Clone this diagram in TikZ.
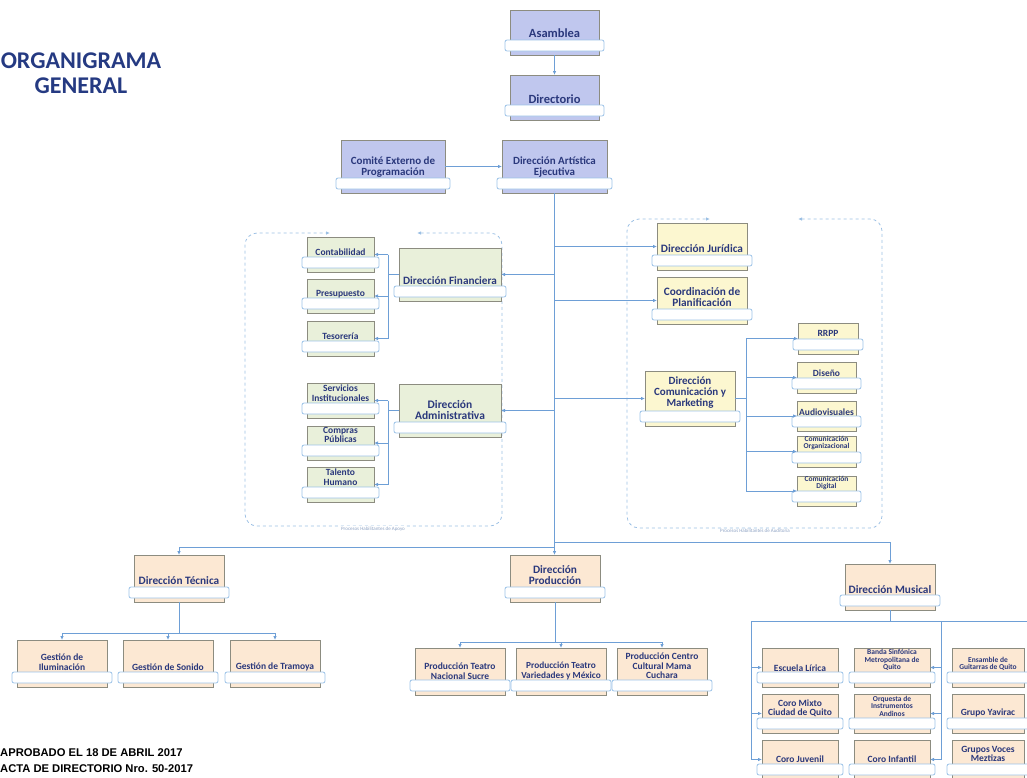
\documentclass[tikz,border=0pt]{standalone}
\usepackage{fontspec}
\setmainfont{Carlito}
\newfontfamily\arialfont{Liberation Sans}
\usetikzlibrary{arrows.meta,calc}
\definecolor{navy}{HTML}{2A387C}
\definecolor{titnavy}{HTML}{253A82}
\definecolor{pur}{HTML}{C0C7EE}
\definecolor{gre}{HTML}{E9F0DA}
\definecolor{yel}{HTML}{FCF7D0}
\definecolor{pea}{HTML}{FCE8D3}
\definecolor{boxborder}{HTML}{8C8C80}
\definecolor{lineblue}{HTML}{6E9FD6}
\definecolor{barblue}{HTML}{9CC3E8}
\definecolor{dashblue}{HTML}{9CC0E4}
\definecolor{labgray}{HTML}{8FA3C4}
\tikzset{
 conn/.style={draw=lineblue, line width=0.9pt, -{Latex[length=4pt,width=3.5pt]}},
 cline/.style={draw=lineblue, line width=0.9pt},
 boxbase/.style={draw=boxborder, line width=0.8pt, inner sep=0pt, outer sep=0pt, anchor=north west},
 barst/.style={draw=barblue, fill=white, line width=0.8pt, rounded corners=2pt},
 txt/.style={text=navy, align=center, inner sep=0pt},
 dashgrp/.style={draw=dashblue, line width=0.8pt, dashed, rounded corners=12pt, {Latex[length=4pt,width=3.5pt]}-{Latex[length=4pt,width=3.5pt]}},
 grplab/.style={text=labgray, font=\fontsize{5}{5}\selectfont, fill=white, inner sep=0.5pt},
 titst/.style={text=titnavy, font=\fontsize{24}{24}\selectfont\bfseries, inner sep=0pt},
 footst/.style={text=black, font=\arialfont\fontsize{11.2}{11.2}\selectfont\bfseries, inner sep=0pt, anchor=base west}
}
\newcommand\obox[9]{%
 \node[boxbase, fill=#6, minimum width={(#4-#2)*1pt}, minimum height={(#5-#3)*1pt}] (#1) at (#2,#3) {};
 \draw[barst] ([shift={(-5pt,4pt)}]#1.south west) rectangle ([shift={(5pt,15pt)}]#1.south east);
 \node[txt, font=\bfseries\fontsize{#9}{#9}\selectfont] (#1t) at ({(#2+#4)/2},#8) {#7};
}
\begin{document}
\begin{tikzpicture}[x=1pt,y=-1pt]
\useasboundingbox (0,0) rectangle (1027,777);
\clip (0,0) rectangle (1027,777);
% title and footer
\node[titst] (tit1) at (81,61) {ORGANIGRAMA};
\node[titst] (tit2) at (81,86) {GENERAL};
\node[footst] (ap1) at (0,756) {APROBADO EL 18 DE ABRIL 2017};
\node[footst] (ap2) at (0,772) {ACTA DE DIRECTORIO Nro. 50-2017};
% group frames
\draw[dashgrp] (417,233) -- (502,233) -- (502,526) -- (245,526) -- (245,233) -- (330,233);
\node[grplab] (lab1) at (373,529) {Procesos Habilitantes de Apoyo};
\draw[dashgrp] (798,219) -- (882,219) -- (882,528) -- (627,528) -- (627,219) -- (710,219);
\node[grplab] (lab2) at (755,531) {Procesos Habilitantes de Auditoría};
% top
\obox{asam}{510}{10}{599}{55}{pur}{Asamblea}{33}{12.5}
\obox{dire}{510}{75}{599}{120}{pur}{Directorio}{99}{12.5}
\obox{comite}{341}{140}{445}{193}{pur}{Comité Externo de\\Programación}{167.5}{11}
\obox{dae}{502}{140}{607}{193}{pur}{Dirección Artística\\Ejecutiva}{167.5}{11}
% left group
\obox{df}{399}{248}{501}{301}{gre}{Dirección Financiera}{281}{11.2}
\obox{dadm}{399}{384}{501}{437}{gre}{Dirección\\Administrativa}{410}{11.5}
\obox{cont}{307}{237}{374}{272}{gre}{Contabilidad}{252}{9.5}
\obox{pres}{307}{279}{374}{313}{gre}{Presupuesto}{294}{9.5}
\obox{teso}{307}{321}{374}{356}{gre}{Tesorería}{336}{9.5}
\obox{serv}{307}{383}{374}{418}{gre}{Servicios\\Institucionales}{393}{9.5}
\obox{comp}{307}{426}{374}{460}{gre}{Compras\\Públicas}{435}{9.5}
\obox{tal}{307}{467}{374}{502}{gre}{Talento\\Humano}{477}{9.5}
% right group
\obox{djur}{657}{223}{747}{270}{yel}{Dirección Jurídica}{249}{11.3}
\obox{cplan}{657}{277}{747}{324}{yel}{Coordinación de\\Planificación}{297}{11.3}
\obox{dcm}{645}{371}{735}{426}{yel}{Dirección\\Comunicación y\\Marketing}{393}{11}
\obox{rrpp}{798}{323}{858}{354}{yel}{RRPP}{333}{9.5}
\obox{dis}{797}{362}{856}{393}{yel}{Diseño}{373}{9.5}
\obox{audio}{797}{401}{856}{431}{yel}{Audiovisuales}{412}{9.5}
\obox{corg}{797}{436}{856}{467}{yel}{Comunicación\\Organizacional}{443}{7.5}
\obox{cdig}{797}{476}{856}{506}{yel}{Comunicación\\Digital}{483}{7.5}
% bottom
\obox{dtec}{134}{555}{224}{602}{pea}{Dirección Técnica}{581}{11.3}
\obox{dprod}{510}{555}{600}{602}{pea}{Dirección\\Producción}{575}{11.3}
\obox{dmus}{845}{564}{935}{610}{pea}{Dirección Musical}{590}{11.3}
\obox{ilum}{17}{640}{107}{687}{pea}{Gestión de\\Iluminación}{662}{9.5}
\obox{son}{123}{640}{213}{687}{pea}{Gestión de Sonido}{667}{9.5}
\obox{tram}{230}{640}{320}{687}{pea}{Gestión de Tramoya}{667}{9.5}
\obox{ptns}{415}{648}{505}{695}{pea}{Producción Teatro\\Nacional Sucre}{671}{9.5}
\obox{ptvm}{516}{648}{606}{695}{pea}{Producción Teatro\\Variedades y México}{671}{9.3}
\obox{pccm}{617}{648}{707}{695}{pea}{Producción Centro\\Cultural Mama\\Cuchara}{666}{9.5}
\obox{esc}{762}{648}{838}{687}{pea}{Escuela Lírica}{668}{9.5}
\obox{cmix}{762}{694}{838}{733}{pea}{Coro Mixto\\Ciudad de Quito}{708}{9.5}
\obox{cjuv}{762}{740}{838}{779}{pea}{Coro Juvenil}{759}{9.5}
\obox{banda}{854}{648}{930}{687}{pea}{Banda Sinfónica\\Metropolitana de\\Quito}{660}{7.5}
\obox{orq}{854}{694}{930}{733}{pea}{Orquesta de\\Instrumentos\\Andinos}{706}{7.5}
\obox{cinf}{854}{740}{930}{779}{pea}{Coro Infantil}{759}{9.5}
\obox{ens}{952}{648}{1024}{687}{pea}{Ensamble de\\Guitarras de Quito}{664}{7.5}
\obox{yav}{952}{694}{1024}{733}{pea}{Grupo Yavirac}{713}{9.5}
\obox{gvm}{952}{740}{1024}{779}{pea}{Grupos Voces\\Meztizas}{754}{9.5}
% connectors top
\draw[conn] (asam) -- (dire);
\draw[conn] (comite) -- (dae);
\coordinate (tr) at (dae.south);
\draw[conn] (tr) -- (tr |- dprod.north);
\draw[conn] (tr |- df.east) -- (df.east);
\draw[conn] (tr |- dadm.east) -- (dadm.east);
\draw[conn] (tr |- djur.west) -- (djur.west);
\draw[conn] (tr |- cplan.west) -- (cplan.west);
\draw[conn] (tr |- dcm.west) -- (dcm.west);
% financial
\coordinate (dfj) at ($(df.west)+(-11pt,0pt)$);
\draw[cline] (df.west) -- (dfj);
\draw[cline] (dfj |- cont.east) -- (dfj |- teso.east);
\foreach \c in {cont,pres,teso} \draw[conn] (dfj |- \c.east) -- (\c.east);
% administrative
\coordinate (daj) at ($(dadm.west)+(-11pt,0pt)$);
\draw[cline] (dadm.west) -- (daj);
\draw[cline] (daj |- serv.east) -- (daj |- tal.east);
\foreach \c in {serv,comp,tal} \draw[conn] (daj |- \c.east) -- (\c.east);
% communication
\coordinate (dcj) at ($(dcm.east)+(11pt,0pt)$);
\draw[cline] (dcm.east) -- (dcj);
\draw[cline] (dcj |- rrpp.west) -- (dcj |- cdig.west);
\foreach \c in {rrpp,dis,audio,corg,cdig} \draw[conn] (dcj |- \c.west) -- (\c.west);
% bottom level
\coordinate (hl) at (0,547);
\coordinate (hr) at (0,542);
\draw[conn] (tr |- hl) -| (dtec.north);
\draw[conn] (tr |- hr) -| (dmus.north);
% tecnica
\coordinate (dtj) at ($(dtec.south)+(0pt,-31pt)$);
\draw[cline] (dtec.south) -- (dtj);
\draw[cline] (dtj -| ilum.north) -- (dtj -| tram.north);
\foreach \c in {ilum,son,tram} \draw[conn] (dtj -| \c.north) -- (\c.north);
% produccion
\coordinate (dpj) at ($(dprod.south)+(0pt,-40pt)$);
\draw[cline] (dprod.south) -- (dpj);
\draw[cline] (dpj -| ptns.north) -- (dpj -| pccm.north);
\foreach \c in {ptns,ptvm,pccm} \draw[conn] (dpj -| \c.north) -- (\c.north);
% musical
\coordinate (dmj) at ($(dmus.south)+(0pt,-11pt)$);
\draw[cline] (dmus.south) -- (dmj);
\coordinate (mlj) at ($(dmj -| esc.west)+(-11pt,0pt)$);
\coordinate (mmj) at ($(dmj -| banda.east)+(11pt,0pt)$);
\coordinate (mrj) at ($(dmj -| ens.east)+(30pt,0pt)$);
\draw[cline] (mlj) -- (mrj);
\draw[cline] (mlj) -- (mlj |- cjuv.west);
\foreach \c in {esc,cmix,cjuv} \draw[conn] (mlj |- \c.west) -- (\c.west);
\draw[cline] (mmj) -- (mmj |- cinf.east);
\foreach \c in {banda,orq,cinf} \draw[conn] (mmj |- \c.east) -- (\c.east);
\end{tikzpicture}
\end{document}
